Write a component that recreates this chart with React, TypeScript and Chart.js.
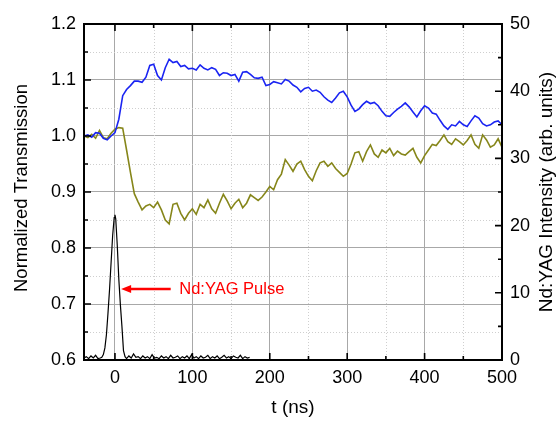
import { useEffect, useRef } from 'react';
import { Chart, registerables } from 'chart.js';

Chart.register(...registerables);

const FONT = '"Liberation Sans", Arial, Helvetica, sans-serif';

// time axis (ns) for the transmission traces
const timeNs = [
  -40, -35, -30, -25, -20, -15, -10, -5, 0, 5, 10, 15, 20, 25, 30, 35, 40, 45, 50, 55,
  60, 65, 70, 75, 80, 85, 90, 95, 100, 105, 110, 115, 120, 125, 130, 135, 140, 145, 150, 155,
  160, 165, 170, 175, 180, 185, 190, 195, 200, 205, 210, 215, 220, 225, 230, 235, 240, 245, 250, 255,
  260, 265, 270, 275, 280, 285, 290, 295, 300, 305, 310, 315, 320, 325, 330, 335, 340, 345, 350, 355,
  360, 365, 370, 375, 380, 385, 390, 395, 400, 405, 410, 415, 420, 425, 430, 435, 440, 445, 450, 455,
  460, 465, 470, 475, 480, 485, 490, 495, 500,
];

// blue trace (normalized transmission)
const transBlue = [
  1.000, 1.002, 0.998, 1.006, 1.005, 0.996, 0.993, 1.000, 1.006, 1.030, 1.072, 1.083, 1.090, 1.098, 1.098, 1.096, 1.105, 1.126, 1.128, 1.108,
  1.100, 1.122, 1.137, 1.131, 1.133, 1.124, 1.126, 1.120, 1.121, 1.118, 1.127, 1.121, 1.118, 1.122, 1.119, 1.108, 1.113, 1.112, 1.108, 1.110,
  1.098, 1.114, 1.115, 1.110, 1.104, 1.103, 1.105, 1.090, 1.092, 1.097, 1.095, 1.093, 1.101, 1.098, 1.091, 1.087, 1.079, 1.085, 1.087, 1.080,
  1.082, 1.078, 1.070, 1.064, 1.060, 1.068, 1.077, 1.080, 1.070, 1.055, 1.044, 1.048, 1.056, 1.062, 1.058, 1.060, 1.054, 1.044, 1.036, 1.035,
  1.042, 1.048, 1.053, 1.059, 1.052, 1.043, 1.034, 1.045, 1.054, 1.050, 1.041, 1.039, 1.028, 1.018, 1.012, 1.020, 1.018, 1.026, 1.020, 1.017,
  1.027, 1.036, 1.032, 1.022, 1.018, 1.020, 1.025, 1.027, 1.020,
];

// olive trace (normalized transmission)
const transOlive = [
  1.000, 0.997, 1.003, 0.996, 1.010, 0.997, 0.995, 1.005, 1.012, 1.015, 1.014, 0.975, 0.935, 0.897, 0.882, 0.868, 0.875, 0.878, 0.872, 0.882,
  0.868, 0.850, 0.843, 0.878, 0.880, 0.862, 0.850, 0.862, 0.870, 0.860, 0.878, 0.872, 0.886, 0.870, 0.862, 0.880, 0.896, 0.884, 0.870, 0.880,
  0.887, 0.872, 0.880, 0.895, 0.890, 0.885, 0.891, 0.900, 0.910, 0.904, 0.922, 0.932, 0.958, 0.948, 0.937, 0.950, 0.955, 0.940, 0.928, 0.920,
  0.938, 0.952, 0.955, 0.946, 0.952, 0.942, 0.935, 0.928, 0.933, 0.950, 0.970, 0.972, 0.955, 0.972, 0.984, 0.968, 0.962, 0.975, 0.970, 0.978,
  0.965, 0.973, 0.968, 0.966, 0.972, 0.978, 0.962, 0.952, 0.965, 0.975, 0.985, 0.983, 0.992, 1.002, 0.990, 0.985, 0.995, 0.990, 0.984, 0.992,
  1.002, 0.985, 0.978, 1.002, 0.993, 0.980, 0.984, 0.995, 0.980,
];

// Nd:YAG pulse (right axis, arb. units)
const pulseTimeNs = [
  -40, -37, -34, -31, -28, -25, -22, -19, -17, -15, -13, -11, -9, -7, -5, -3, -1, 0, 1, 3,
  5, 7, 9, 11, 13, 15, 18, 21, 24, 27, 30, 33, 36, 39, 42, 45, 48, 51, 54, 57,
  60, 63, 66, 69, 72, 75, 78, 81, 84, 87, 90, 93, 96, 99, 102, 105, 108, 111, 114, 117,
  120, 123, 126, 129, 132, 135, 138, 141, 144, 147, 150, 153, 156, 159, 162, 165, 168, 171, 174,
];
const pulseIntensity = [
  0.3, 0.5, 0.2, 0.6, 0.3, 0.7, 0.2, 0.3, 0.4, 0.8, 1.8, 3.8, 7.0, 10.5, 14.5, 18.5, 21.2, 21.6, 21.0, 17.0,
  12.0, 8.2, 5.0, 1.4, 0.5, 0.2, 0.6, 0.3, 0.9, 0.4, 0.5, 0.2, 0.6, 0.3, 0.5, 0.2, 0.8, 0.3, 0.4, 0.2,
  0.6, 0.3, 0.5, 0.2, 0.7, 0.3, 0.4, 0.6, 0.2, 0.5, 0.3, 0.6, 0.2, 0.8, 0.3, 0.5, 0.2, 0.6, 0.3, 0.4,
  0.7, 0.2, 0.5, 0.3, 0.6, 0.2, 0.4, 0.7, 0.3, 0.5, 0.2, 0.6, 0.4, 0.3, 0.7, 0.2, 0.5, 0.3, 0.4,
];

const xMajorTicks = [0, 100, 200, 300, 400, 500];
const xMinorTicks = [50, 150, 250, 350, 450];
const yMajorTicks = [0.6, 0.7, 0.8, 0.9, 1.0, 1.1, 1.2];
const yMinorTicks = [0.65, 0.75, 0.85, 0.95, 1.05, 1.15];
const y2MajorTicks = [0, 10, 20, 30, 40, 50];
const y2MinorTicks = [5, 15, 25, 35, 45];

const xTitle = 't (ns)';
const yTitle = 'Normalized Transmission';
const y2Title = 'Nd:YAG Intensity (arb. units)';

const arrowFromT = 72;
const arrowToT = 8;
const arrowLevel = 0.727;
const labelT = 83;
const labelText = 'Nd:YAG Pulse';

const decorPlugin = {
  id: 'decor',
  beforeDatasetsDraw(chart: any) {
    const { ctx, chartArea: a, scales } = chart;
    ctx.save();
    ctx.strokeStyle = '#cfcfcf';
    ctx.lineWidth = 1;
    ctx.setLineDash([1, 2]);
    ctx.beginPath();
    xMinorTicks.forEach((v) => {
      const p = Math.round(scales.x.getPixelForValue(v)) + 0.5;
      ctx.moveTo(p, a.top);
      ctx.lineTo(p, a.bottom);
    });
    yMinorTicks.forEach((v) => {
      const p = Math.round(scales.y.getPixelForValue(v)) + 0.5;
      ctx.moveTo(a.left, p);
      ctx.lineTo(a.right, p);
    });
    ctx.stroke();
    ctx.restore();
  },
  afterDatasetsDraw(chart: any) {
    const { ctx, chartArea: a, scales } = chart;
    ctx.save();
    ctx.strokeStyle = '#000';
    ctx.lineWidth = 1.6;
    ctx.beginPath();
    const hx = (vals: number[], len: number) =>
      vals.forEach((v) => {
        const p = scales.x.getPixelForValue(v);
        ctx.moveTo(p, a.bottom);
        ctx.lineTo(p, a.bottom - len);
        ctx.moveTo(p, a.top);
        ctx.lineTo(p, a.top + len);
      });
    hx(xMajorTicks, 7);
    hx(xMinorTicks, 4);
    yMajorTicks.forEach((v) => {
      const p = scales.y.getPixelForValue(v);
      ctx.moveTo(a.left, p);
      ctx.lineTo(a.left + 7, p);
    });
    yMinorTicks.forEach((v) => {
      const p = scales.y.getPixelForValue(v);
      ctx.moveTo(a.left, p);
      ctx.lineTo(a.left + 4, p);
    });
    y2MajorTicks.forEach((v) => {
      const p = scales.y2.getPixelForValue(v);
      ctx.moveTo(a.right, p);
      ctx.lineTo(a.right - 7, p);
    });
    y2MinorTicks.forEach((v) => {
      const p = scales.y2.getPixelForValue(v);
      ctx.moveTo(a.right, p);
      ctx.lineTo(a.right - 4, p);
    });
    ctx.stroke();

    ctx.lineWidth = 2;
    ctx.strokeRect(a.left, a.top, a.right - a.left, a.bottom - a.top);

    // annotation arrow
    const ax0 = scales.x.getPixelForValue(arrowFromT);
    const ax1 = scales.x.getPixelForValue(arrowToT);
    const ay = scales.y.getPixelForValue(arrowLevel);
    ctx.strokeStyle = '#ff0000';
    ctx.fillStyle = '#ff0000';
    ctx.lineWidth = 2.5;
    ctx.beginPath();
    ctx.moveTo(ax0, ay);
    ctx.lineTo(ax1 + 8, ay);
    ctx.stroke();
    ctx.beginPath();
    ctx.moveTo(ax1, ay);
    ctx.lineTo(ax1 + 10, ay - 4);
    ctx.lineTo(ax1 + 10, ay + 4);
    ctx.closePath();
    ctx.fill();

    ctx.font = `16.5px ${FONT}`;
    ctx.textAlign = 'left';
    ctx.textBaseline = 'middle';
    ctx.fillText(labelText, scales.x.getPixelForValue(labelT), ay + 1);

    // axis titles
    ctx.fillStyle = '#000';
    ctx.textAlign = 'center';
    ctx.textBaseline = 'middle';
    ctx.font = `19px ${FONT}`;
    ctx.fillText(xTitle, (a.left + a.right) / 2, 408);
    const cy = (a.top + a.bottom) / 2;
    ctx.font = `18.5px ${FONT}`;
    ctx.save();
    ctx.translate(22, cy - 4);
    ctx.rotate(-Math.PI / 2);
    ctx.fillText(yTitle, 0, 0);
    ctx.restore();
    ctx.font = `19px ${FONT}`;
    ctx.save();
    ctx.translate(547, cy);
    ctx.rotate(-Math.PI / 2);
    ctx.fillText(y2Title, 0, 0);
    ctx.restore();
    ctx.restore();
  },
};

export default function App() {
  const ref = useRef<HTMLCanvasElement | null>(null);
  useEffect(() => {
    if (!ref.current) return;
    const tickFont = { family: FONT, size: 18 };
    const chart = new Chart(ref.current, {
      type: 'line',
      data: {
        datasets: [
          {
            label: 'pulse',
            data: pulseTimeNs.map((t, i) => ({ x: t, y: pulseIntensity[i] })),
            borderColor: '#000',
            borderWidth: 1.2,
            pointRadius: 0,
            yAxisID: 'y2',
          },
          {
            label: 'blue',
            data: timeNs.map((t, i) => ({ x: t, y: transBlue[i] })),
            borderColor: '#1a24f2',
            borderWidth: 1.6,
            pointRadius: 0,
            yAxisID: 'y',
          },
          {
            label: 'olive',
            data: timeNs.map((t, i) => ({ x: t, y: transOlive[i] })),
            borderColor: '#86861a',
            borderWidth: 1.6,
            pointRadius: 0,
            yAxisID: 'y',
          },
        ],
      },
      options: {
        animation: false,
        responsive: true,
        maintainAspectRatio: false,
        layout: { padding: { top: 24, left: 0, right: 0, bottom: 0 } },
        plugins: { legend: { display: false }, tooltip: { enabled: false } },
        scales: {
          x: {
            type: 'linear',
            min: -40,
            max: 500,
            afterBuildTicks: (s: any) => {
              s.ticks = xMajorTicks.map((v) => ({ value: v }));
            },
            afterFit: (s: any) => {
              s.height = 61;
            },
            grid: { color: '#a8a8a8', lineWidth: 1, drawTicks: false },
            border: { display: false },
            ticks: { font: tickFont, color: '#000', padding: 7, maxRotation: 0, autoSkip: false },
          },
          y: {
            type: 'linear',
            position: 'left',
            min: 0.6,
            max: 1.2,
            afterBuildTicks: (s: any) => {
              s.ticks = yMajorTicks.map((v) => ({ value: v }));
            },
            afterFit: (s: any) => {
              s.width = 84;
            },
            grid: { color: '#a8a8a8', lineWidth: 1, drawTicks: false },
            border: { display: false },
            ticks: {
              font: tickFont,
              color: '#000',
              padding: 8,
              callback: (v: any) => Number(v).toFixed(1),
            },
          },
          y2: {
            type: 'linear',
            position: 'right',
            min: 0,
            max: 50,
            afterBuildTicks: (s: any) => {
              s.ticks = y2MajorTicks.map((v) => ({ value: v }));
            },
            afterFit: (s: any) => {
              s.width = 57;
            },
            grid: { drawOnChartArea: false, drawTicks: false },
            border: { display: false },
            ticks: { font: tickFont, color: '#000', padding: 8 },
          },
        },
      },
      plugins: [decorPlugin],
    } as any);
    return () => chart.destroy();
  }, []);
  return (
    <div style={{ position: 'fixed', left: 0, top: 0, width: 559, height: 421, background: '#fff' }}>
      <canvas ref={ref} />
    </div>
  );
}
